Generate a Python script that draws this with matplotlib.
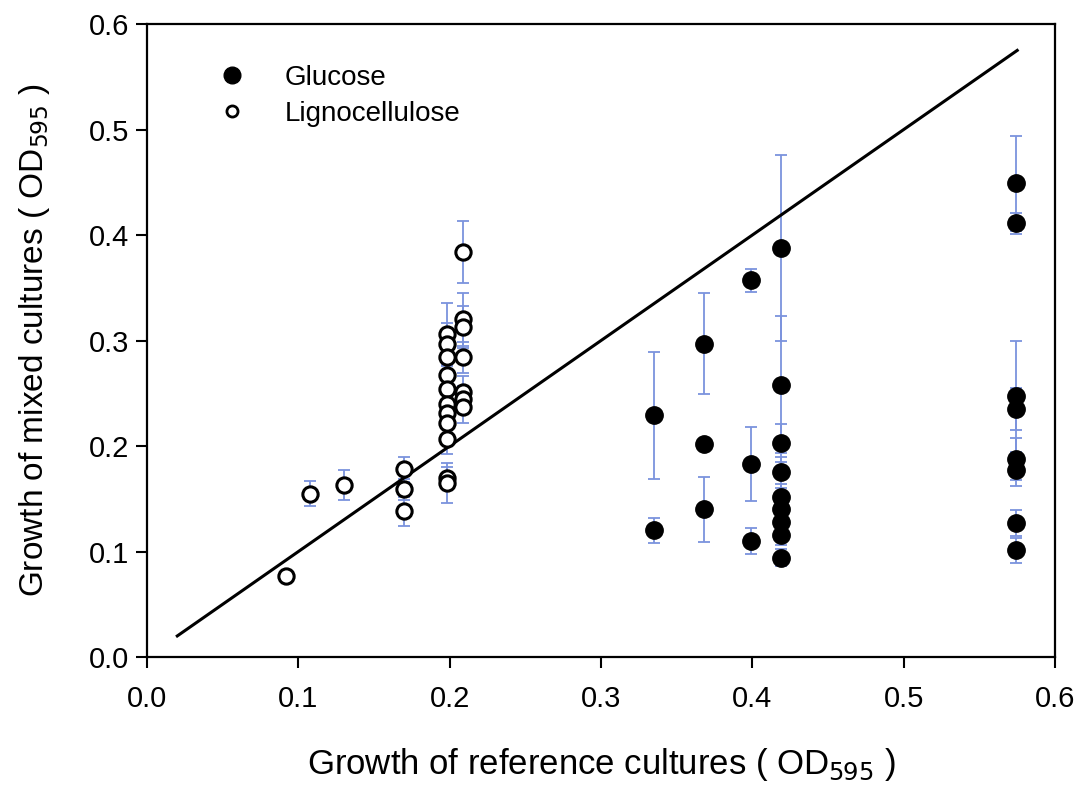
import matplotlib
matplotlib.use("Agg")
import matplotlib.pyplot as plt
from matplotlib.lines import Line2D

# Glucose: reference growth (x), mixed growth (y), error (+/-)
glu_x = [0.335, 0.335,
         0.368, 0.368, 0.368,
         0.399, 0.399, 0.399,
         0.419, 0.419, 0.419, 0.419, 0.419, 0.419, 0.419, 0.419, 0.419,
         0.574, 0.574, 0.574, 0.574, 0.574, 0.574, 0.574, 0.574]
glu_y = [0.229, 0.120,
         0.297, 0.202, 0.140,
         0.357, 0.183, 0.110,
         0.388, 0.258, 0.203, 0.175, 0.152, 0.140, 0.128, 0.116, 0.094,
         0.449, 0.411, 0.247, 0.235, 0.188, 0.177, 0.127, 0.101]
glu_err = [0.060, 0.012,
           0.048, 0.000, 0.031,
           0.011, 0.035, 0.012,
           0.088, 0.065, 0.018, 0.015, 0.012, 0.010, 0.010, 0.010, 0.008,
           0.045, 0.010, 0.053, 0.020, 0.020, 0.015, 0.012, 0.012]

# Lignocellulose
lig_x = [0.092, 0.108, 0.130,
         0.170, 0.170, 0.170,
         0.198, 0.198, 0.198, 0.198, 0.198, 0.198, 0.198, 0.198, 0.198, 0.198, 0.198,
         0.209, 0.209, 0.209, 0.209, 0.209, 0.209, 0.209]
lig_y = [0.077, 0.155, 0.163,
         0.178, 0.159, 0.138,
         0.306, 0.297, 0.284, 0.267, 0.254, 0.240, 0.231, 0.222, 0.207, 0.170, 0.165,
         0.384, 0.320, 0.313, 0.284, 0.251, 0.245, 0.237]
lig_err = [0.000, 0.012, 0.014,
           0.012, 0.010, 0.014,
           0.030, 0.020, 0.015, 0.012, 0.015, 0.012, 0.010, 0.012, 0.015, 0.010, 0.019,
           0.029, 0.025, 0.020, 0.015, 0.015, 0.012, 0.015]

# 1:1 line
line_x = [0.02, 0.575]
line_y = [0.02, 0.575]

plt.rcParams['font.family'] = ['Liberation Sans', 'DejaVu Sans']

fig = plt.figure(figsize=(10.85, 7.85), dpi=100)
ax = fig.add_axes([0.1355, 0.163, 0.8369, 0.8064])

ebcol = '#7b93dd'
ax.errorbar(glu_x, glu_y, yerr=glu_err, fmt='none', ecolor=ebcol, elinewidth=1.3,
            capsize=4, capthick=1.3, zorder=2)
ax.errorbar(lig_x, lig_y, yerr=lig_err, fmt='none', ecolor=ebcol, elinewidth=1.3,
            capsize=4, capthick=1.3, zorder=2)

ax.plot(line_x, line_y, color='black', lw=2.2, zorder=3)

ax.plot(glu_x, glu_y, 'o', ms=12.5, mfc='black', mec='black', ls='none', zorder=4)
ax.plot(lig_x, lig_y, 'o', ms=11, mfc='white', mec='black', mew=2.2, ls='none', zorder=4)

ax.set_xlim(0, 0.6)
ax.set_ylim(0, 0.6)
ax.set_xticks([0.0, 0.1, 0.2, 0.3, 0.4, 0.5, 0.6])
ax.set_yticks([0.0, 0.1, 0.2, 0.3, 0.4, 0.5, 0.6])
ax.set_xticklabels(['0.0', '0.1', '0.2', '0.3', '0.4', '0.5', '0.6'])
ax.set_yticklabels(['0.0', '0.1', '0.2', '0.3', '0.4', '0.5', '0.6'])
ax.tick_params(direction='out', length=8, width=1.5, labelsize=21, pad=5)
ax.tick_params(axis='x', pad=12)
for s in ax.spines.values():
    s.set_linewidth(1.6)

ax.set_xlabel('Growth of reference cultures ( OD$_{595}$ )', fontsize=25, labelpad=24)
ax.set_ylabel('Growth of mixed cultures ( OD$_{595}$ )', fontsize=24, labelpad=26)

handles = [Line2D([], [], marker='o', ls='none', ms=12, mfc='black', mec='black'),
           Line2D([], [], marker='o', ls='none', ms=8, mfc='white', mec='black', mew=2)]
ax.legend(handles, ['Glucose', 'Lignocellulose'], loc='upper left',
          bbox_to_anchor=(0.035, 0.975), frameon=False, fontsize=20,
          handletextpad=0.9, labelspacing=0.35)

fig.savefig('out.png', dpi=100)
